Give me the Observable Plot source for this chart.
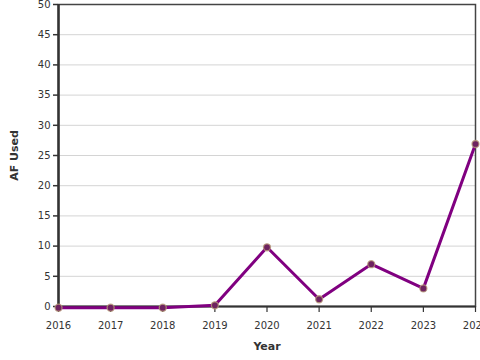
<!DOCTYPE html>
<html>
<head>
<meta charset="utf-8">
<script src="https://cdn.jsdelivr.net/npm/d3@7"></script>
<script src="https://cdn.jsdelivr.net/npm/@observablehq/plot@0.6"></script>
<style>
  html, body { margin: 0; padding: 0; background: #fff; }
</style>
</head>
<body>
<div id="chart"></div>
<script>
const years = [2016, 2017, 2018, 2019, 2020, 2021, 2022, 2023, 2024];
const afUsed = [-0.2, -0.2, -0.2, 0.2, 9.8, 1.2, 7.0, 3.0, 26.9];
const yTicks = [0, 5, 10, 15, 20, 25, 30, 35, 40, 45, 50];
const xLabel = "Year";
const yLabel = "AF Used";

const data = years.map((y, i) => ({year: y, value: afUsed[i]}));

const chart = Plot.plot({
  width: 480,
  height: 360,
  marginLeft: 58,
  marginRight: 5,
  marginTop: 4,
  marginBottom: 54,
  style: {fontFamily: "DejaVu Sans", fontSize: "10px", color: "#333", background: "#fff"},
  x: {domain: [2016, 2024], label: null},
  y: {domain: [0, 50], label: null},
  marks: [
    Plot.gridY(yTicks, {stroke: "#d4d4d4", strokeOpacity: 1}),
    Plot.frame({stroke: "#444", strokeWidth: 1.5}),
    Plot.axisY(yTicks, {tickSize: 5, tickPadding: 3, stroke: "#333", fill: "#333", strokeWidth: 1.5}),
    Plot.axisX(years, {tickSize: 6, tickPadding: 9, tickFormat: d => String(d), stroke: "#333", fill: "#333", strokeWidth: 1.2}),
    Plot.ruleX([2016], {stroke: "#333", strokeWidth: 2.5}),
    Plot.ruleY([0], {stroke: "#333", strokeWidth: 2}),
    Plot.line(data, {x: "year", y: "value", stroke: "#800080", strokeWidth: 3}),
    Plot.dot(data, {x: "year", y: "value", r: 3.5, fill: "#6e2360", stroke: "#b89a78", strokeOpacity: 0.8, strokeWidth: 1.3}),
    Plot.text([yLabel], {frameAnchor: "left", textAnchor: "middle", rotate: -90, dx: -44, fontWeight: "bold", fontSize: 11, fill: "#333"}),
    Plot.text([xLabel], {frameAnchor: "bottom", textAnchor: "middle", dy: 43, fontWeight: "bold", fontSize: 11, fill: "#333"})
  ]
});
document.getElementById("chart").appendChild(chart);
</script>
</body>
</html>
